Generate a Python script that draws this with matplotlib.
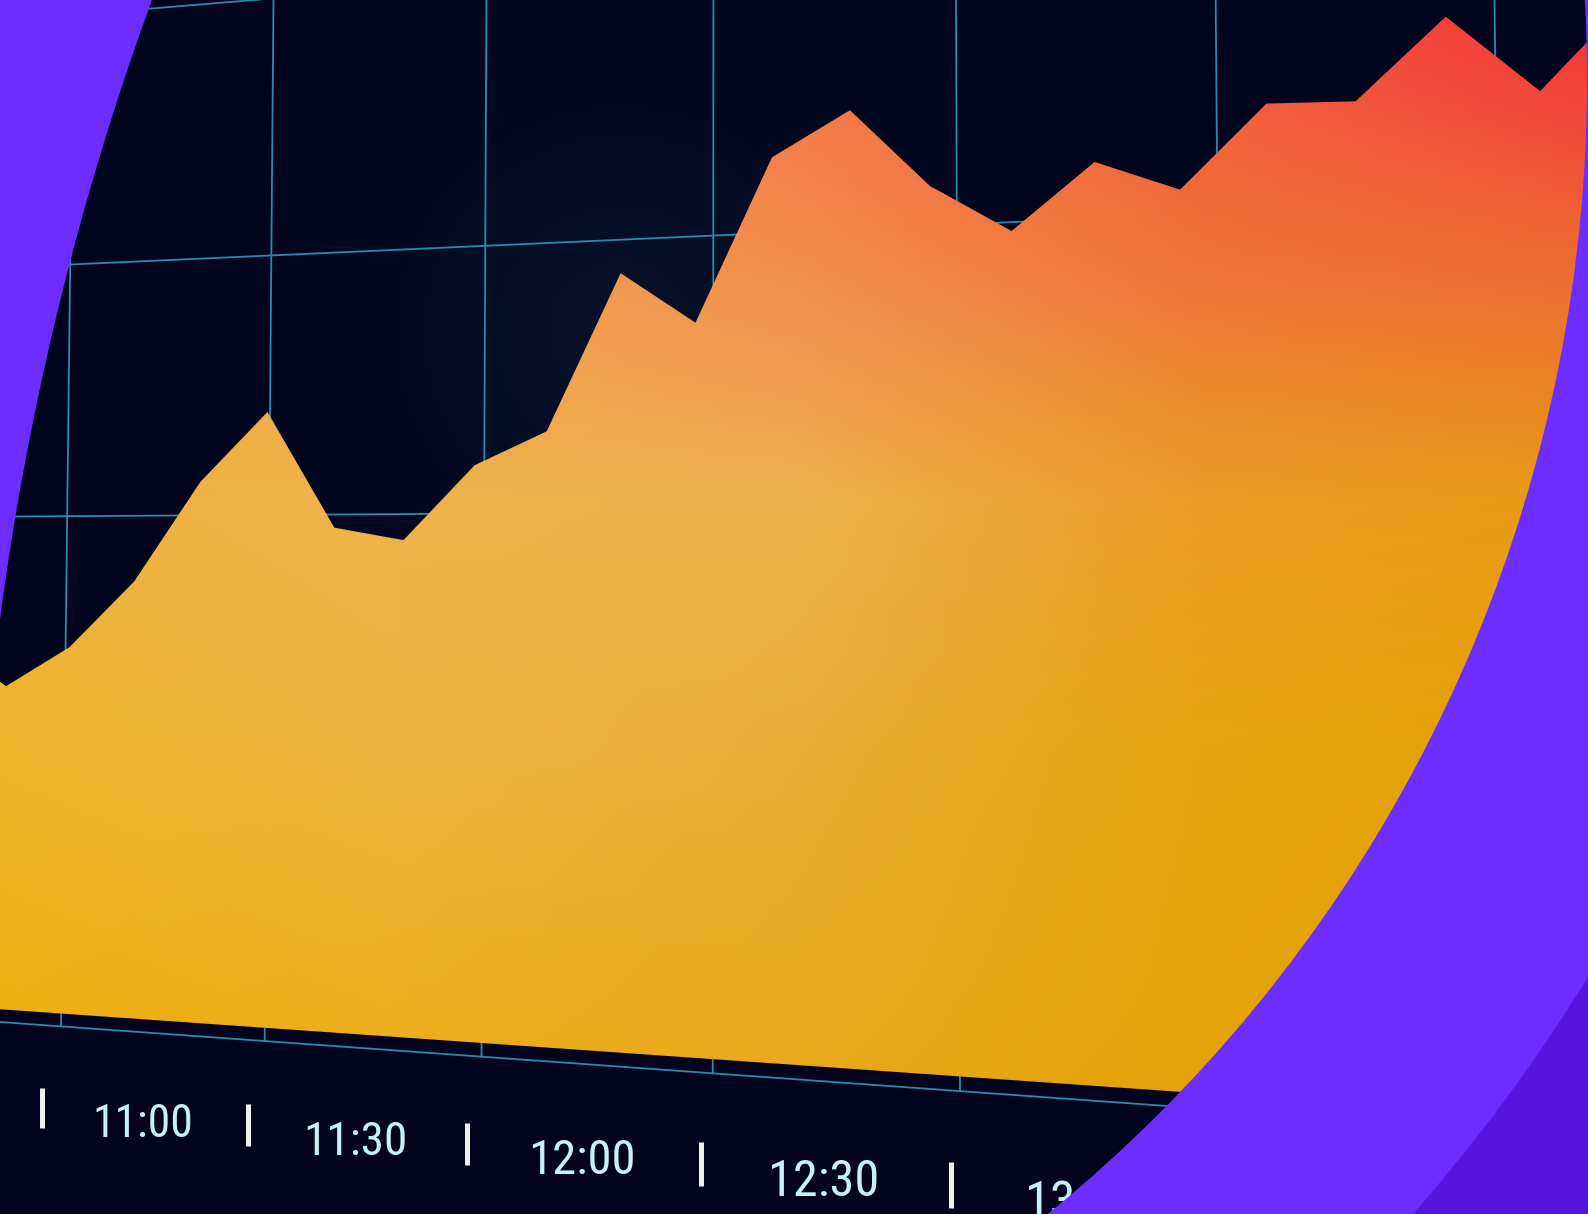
import os
import numpy as np
import matplotlib
matplotlib.use("Agg")
import matplotlib.pyplot as plt
import matplotlib.transforms as mtransforms
from matplotlib import font_manager
from matplotlib.patches import Annulus
from matplotlib.path import Path

W, H = 1588, 1214

# --- data (values in grid rows, one sample every ~1/3 grid column) ---
sample_idx = list(range(-2, 21))
values = [1.50, 1.325, 1.483, 1.743, 2.130, 2.396, 1.950, 1.902, 2.180, 2.302,
          2.877, 2.686, 3.273, 3.426, 3.141, 2.969, 3.195, 3.085, 3.362, 3.352,
          3.615, 3.350, 3.65]
tick_labels = ["11:00", "11:30", "12:00", "12:30", "13:00"]
grid_cols = [0, 1, 2, 3, 4, 5, 6, 7]
grid_rows = [0, 1, 2, 3, 4]

SAMPLE_STEP = 0.3228      # grid columns per sample
SAMPLE_OFFSET = 0.06      # first sample shift, in samples
BASE = 0.05               # bottom of the filled area

NAVY = "#02041d"
GRID = "#2b8aa8"
PURPLE = "#6d2dff"
PURPLE_DARK = "#5915e0"
LABEL = "#c6f2f7"

# --- perspective of the photographed screen ---
def homography(src, dst):
    A, b = [], []
    for (u, v), (x, y) in zip(src, dst):
        A.append([u, v, 1, 0, 0, 0, -u * x, -v * x]); b.append(x)
        A.append([0, 0, 0, u, v, 1, -u * y, -v * y]); b.append(y)
    h = np.linalg.solve(np.array(A, float), np.array(b, float))
    return np.append(h, 1.0).reshape(3, 3)


class Perspective(mtransforms.Transform):
    input_dims = 2
    output_dims = 2

    def __init__(self, M):
        super().__init__()
        self.M = M

    def transform_non_affine(self, values):
        v = np.atleast_2d(np.asarray(values, float))
        p = np.column_stack([v, np.ones(len(v))]) @ self.M.T
        out = p[:, :2] / p[:, 2:3]
        return out if np.ndim(values) > 1 else out[0]

    def transform_path_non_affine(self, path):
        return Path(self.transform_non_affine(path.vertices), path.codes)

    def inverted(self):
        return Perspective(np.linalg.inv(self.M))


M = homography([(0, 0), (4, 0), (0, 3), (4, 3)],
               [(61, 1026.4), (960, 1091.1), (70.2, 264.5), (956.8, 224.6)])

fig = plt.figure(figsize=(W / 100, H / 100), dpi=100)
fig.patch.set_facecolor(NAVY)
ax = fig.add_axes([0, 0, 1, 1])
ax.set_facecolor(NAVY)
ax.set_autoscale_on(False)
ax.set_xlim(0, W)
ax.set_ylim(H, 0)
ax.axis("off")

T = Perspective(M) + ax.transData

# faint glow on the screen
gy, gx = np.mgrid[0:H:4, 0:W:4]
glow = np.zeros(gx.shape + (4,))
glow[..., :3] = (0.05, 0.13, 0.22)
glow[..., 3] = 0.45 * np.exp(-((gx - 620) ** 2 + (gy - 330) ** 2) / (2 * 180 ** 2))
ax.imshow(glow, extent=(0, W, H, 0), zorder=0.5, aspect="auto")

# grid
for c in grid_cols:
    ax.plot([c, c], [0, 5.5], transform=T, color=GRID, lw=1.3, zorder=1)
for r in grid_rows:
    ax.plot([-1.5, 8], [r, r], transform=T, color=GRID, lw=1.3, zorder=1)

# area with gradient fill
u = [(i + SAMPLE_OFFSET) * SAMPLE_STEP for i in sample_idx]
area = ax.fill_between(u, BASE, values, transform=T, facecolor="none",
                       edgecolor="none", zorder=2)

ctrl_x = [0, 400, 800, 1200, 1588]
ctrl_y = [0, 250, 500, 750, 1000, 1214]
ctrl_hex = [
    ["#F2A050", "#F49050", "#F57048", "#F45540", "#F5303C"],
    ["#F0AC48", "#F2A050", "#F38A4C", "#F07038", "#EE6832"],
    ["#F0B23C", "#F0B24C", "#EEB04C", "#EA9C24", "#E89A14"],
    ["#EFB22A", "#EEB23C", "#EBAC34", "#E5A40C", "#E3A200"],
    ["#EEB010", "#EDAE20", "#E9AA20", "#E4A306", "#E3A000"],
    ["#EDAF05", "#EBAB12", "#E7A612", "#E2A00A", "#E2A000"],
]
ctrl = np.array([[matplotlib.colors.to_rgb(h) for h in row] for row in ctrl_hex])
xs = np.linspace(0, W, 400)
ys = np.linspace(0, H, 306)
rows = np.array([[np.interp(xs, ctrl_x, ctrl[r, :, ch]) for ch in range(3)]
                 for r in range(len(ctrl_y))])
grad = np.empty((len(ys), len(xs), 3))
for ch in range(3):
    for j in range(len(xs)):
        grad[:, j, ch] = np.interp(ys, ctrl_y, rows[:, ch, j])
img = ax.imshow(grad, extent=(0, W, H, 0), zorder=2, aspect="auto",
                interpolation="bilinear")
img.set_clip_path(area.get_paths()[0], area.get_transform())


def unit_px(uu):
    # local size of one grid row, in pixels, below the axis
    p0 = T.transform((uu, -0.30))
    p1 = T.transform((uu, -0.40))
    return abs(p0[1] - p1[1]) * 10


# tick bars (always upright on the screen) and time labels
bar_u = [k - 0.09 + 0.013 * k for k in range(len(tick_labels) + 1)]
for bu in bar_u:
    ax.plot([bu], [-0.322], transform=T, marker="|", color="#eeeeee",
            markersize=unit_px(bu) * 0.155 * 0.72, markeredgewidth=3.6,
            linestyle="none", zorder=3)


def pick_font():
    wanted = ["notosans-extracondensed.ttf", "notosans-condensed.ttf",
              "robotocondensed-regular.ttf", "liberationsansnarrow-regular.ttf",
              "dejavusanscondensed.ttf"]
    found = {os.path.basename(f.fname).lower(): f.fname
             for f in font_manager.fontManager.ttflist}
    for name in wanted:
        if name in found:
            return font_manager.FontProperties(fname=found[name])
    return font_manager.FontProperties(family="DejaVu Sans", stretch="condensed")


fp = pick_font()
for k, lab in enumerate(tick_labels):
    lu = (bar_u[k] + bar_u[k + 1]) / 2
    fpk = fp.copy()
    fpk.set_size(32 * unit_px(lu) / 257 / 0.714 * 0.72)
    ax.text(lu, -0.35, lab, transform=T, fontproperties=fpk, color=LABEL,
            ha="center", va="center", zorder=3)

# purple frame shapes
ax.add_patch(Annulus((125, 80), 3200, 3200 - 1462, color=PURPLE, zorder=5, lw=0))
ax.add_patch(Annulus((125, 80), 3200, 3200 - 1716, color=PURPLE_DARK, zorder=6, lw=0))
ax.add_patch(Annulus((2890, 1000), 6000, 6000 - 2915, color=PURPLE, zorder=5, lw=0))

fig.savefig("out.png", dpi=100, facecolor=NAVY)
